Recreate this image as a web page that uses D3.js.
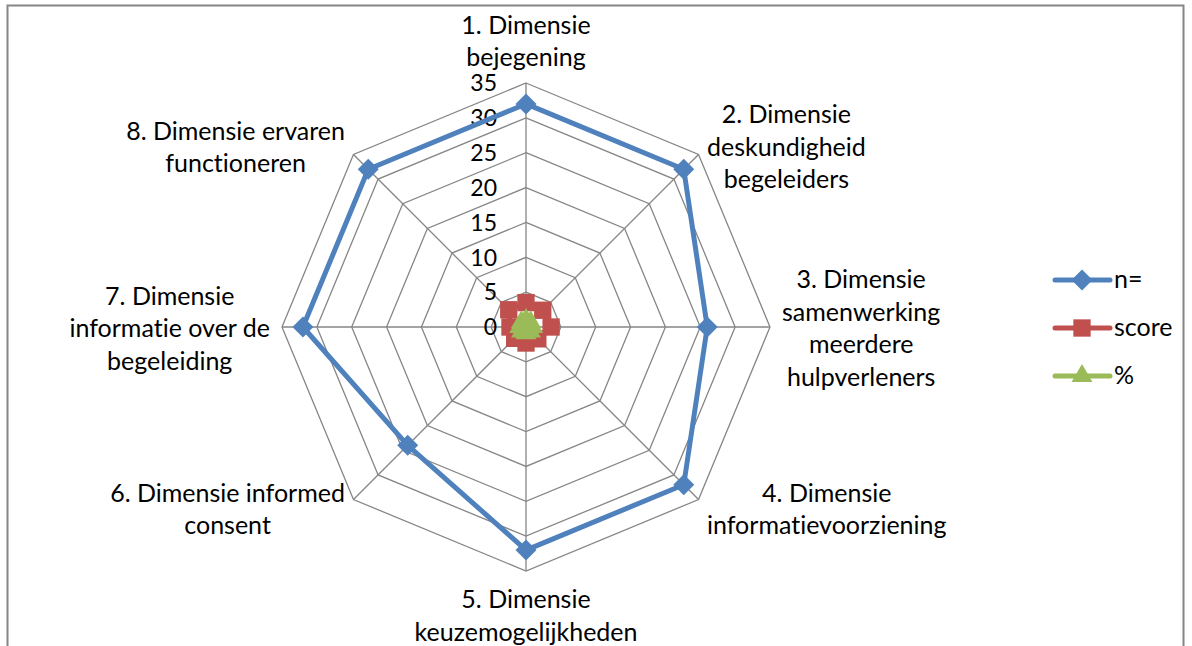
<!DOCTYPE html>
<html>
<head>
<meta charset="utf-8">
<script src="https://cdn.jsdelivr.net/npm/d3@7"></script>
<style>
  body { margin: 0; background: #fff; }
  svg { display: block; }
  text { font-family: Lato, "Open Sans", sans-serif; fill: #000; font-variant-ligatures: none; }
</style>
</head>
<body>
<svg id="chart" width="1192" height="646"></svg>
<script>
// categories (axes of the radar)
const dimensions = [
  ["1. Dimensie", "bejegening"],
  ["2. Dimensie", "deskundigheid", "begeleiders"],
  ["3. Dimensie", "samenwerking", "meerdere", "hulpverleners"],
  ["4. Dimensie", "informatievoorziening"],
  ["5. Dimensie", "keuzemogelijkheden"],
  ["6. Dimensie informed", "consent"],
  ["7. Dimensie", "informatie over de", "begeleiding"],
  ["8. Dimensie ervaren", "functioneren"]
];

// series values
const nValues     = [32, 32, 26, 32, 32, 24, 32, 32];
const scoreValues = [3.5, 3.4, 3.6, 2.4, 2.3, 2.3, 2.3, 3.5];
const pctValues   = [1.0, 0.95, 0.95, 0.9, 0.9, 0.9, 0.9, 0.95];

// tick labels on the radial axis
const tickValues = [0, 5, 10, 15, 20, 25, 30, 35];

const colors = { "n=": "#4F81BD", "score": "#C0504D", "%": "#9BBB59" };
const grid = "#868686";

const svg = d3.select("#chart");

// chart frame (bottom runs off the picture)
svg.append("rect")
  .attr("x", 7.5).attr("y", 5.5)
  .attr("width", 1176).attr("height", 700)
  .attr("fill", "none")
  .attr("stroke", grid)
  .attr("stroke-width", 2);

const cx = 526, cy = 327;
const r = d3.scaleLinear().domain([0, 35]).range([0, 244]);
const angle = d3.scaleLinear().domain([0, dimensions.length]).range([0, 2 * Math.PI]);

const g = svg.append("g").attr("transform", `translate(${cx},${cy})`);

const pt = (i, v) => [Math.sin(angle(i)) * r(v), -Math.cos(angle(i)) * r(v)];

// octagon rings
const ring = d3.lineRadial()
  .angle((d, i) => angle(i))
  .radius(d => r(d))
  .curve(d3.curveLinearClosed);

g.append("g").selectAll("path")
  .data(tickValues.filter(t => t > 0))
  .enter().append("path")
  .attr("d", t => ring(dimensions.map(() => t)))
  .attr("fill", "none")
  .attr("stroke", grid)
  .attr("stroke-width", 1.3);

// spokes
g.append("g").selectAll("line")
  .data(dimensions)
  .enter().append("line")
  .attr("x1", 0).attr("y1", 0)
  .attr("x2", (d, i) => pt(i, 35)[0])
  .attr("y2", (d, i) => pt(i, 35)[1])
  .attr("stroke", grid)
  .attr("stroke-width", 1.3);

// tick labels
g.append("g").selectAll("text")
  .data(tickValues)
  .enter().append("text")
  .attr("x", -29)
  .attr("y", t => -r(t))
  .attr("dy", "0.36em")
  .attr("text-anchor", "end")
  .attr("font-size", 23)
  .text(t => t);

// category labels, placed outside the vertex like Excel does
const lh = 32.5;
const pad = 12;
const labels = g.append("g").selectAll("text")
  .data(dimensions)
  .enter().append("text")
  .attr("font-size", 25)
  .attr("text-anchor", "middle");

labels.each(function(lines, i) {
  const t = d3.select(this);
  lines.forEach((s, k) => {
    t.append("tspan").attr("x", 0).attr("y", k * lh).text(s);
  });
  const bb = this.getBBox();
  const sx = Math.sin(angle(i)), sy = -Math.cos(angle(i));
  const px = sx * (r(35) + pad), py = sy * (r(35) + pad);
  let ox = 0, oy = 0;
  if (Math.abs(sx) > 0.1) ox = Math.sign(sx) * bb.width / 2;
  if (Math.abs(sy) > 0.9) oy = Math.sign(sy) * bb.height / 2;
  const bcx = bb.x + bb.width / 2, bcy = bb.y + bb.height / 2;
  t.attr("transform", `translate(${px + ox - bcx},${py + oy - bcy})`);
});

// series
const data = [
  { name: "n=", values: nValues, symbol: "diamond" },
  { name: "score", values: scoreValues, symbol: "square" },
  { name: "%", values: pctValues, symbol: "triangle" }
];

const symbolPath = {
  diamond: d3.symbol().type(d3.symbolSquare).size(220)(),
  square: d3.symbol().type(d3.symbolSquare).size(300)(),
  triangle: d3.symbol().type(d3.symbolTriangle).size(190)()
};
const symbolRot = { diamond: 45, square: 0, triangle: 0 };

const seriesLine = d3.line().curve(d3.curveLinearClosed);

data.forEach(s => {
  const pts = s.values.map((v, i) => pt(i, v));
  const sg = g.append("g");
  sg.append("path")
    .attr("d", seriesLine(pts))
    .attr("fill", "none")
    .attr("stroke", colors[s.name])
    .attr("stroke-width", 5)
    .attr("stroke-linejoin", "round");
  sg.selectAll("path.m")
    .data(pts)
    .enter().append("path")
    .attr("class", "m")
    .attr("d", symbolPath[s.symbol])
    .attr("transform", d => `translate(${d[0]},${d[1]}) rotate(${symbolRot[s.symbol]})`)
    .attr("fill", colors[s.name]);
});

// legend
const legend = svg.append("g").attr("transform", "translate(1055,280)")
  .selectAll("g")
  .data(data)
  .enter().append("g")
  .attr("transform", (d, i) => `translate(0,${i * 48})`);

legend.append("line")
  .attr("x1", 0).attr("x2", 55)
  .attr("y1", 0).attr("y2", 0)
  .attr("stroke", d => colors[d.name])
  .attr("stroke-width", 5)
  .attr("stroke-linecap", "round");

legend.append("path")
  .attr("d", d => symbolPath[d.symbol])
  .attr("transform", d => `translate(27,0) rotate(${symbolRot[d.symbol]})`)
  .attr("fill", d => colors[d.name]);

legend.append("text")
  .attr("x", 59)
  .attr("y", 0)
  .attr("dy", "0.33em")
  .attr("font-size", 25)
  .text(d => d.name);
</script>
</body>
</html>
